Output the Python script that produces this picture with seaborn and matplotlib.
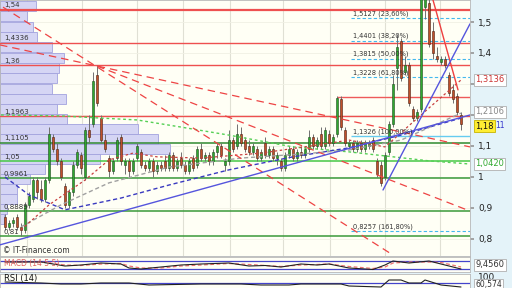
import matplotlib
matplotlib.use("Agg")
import matplotlib.pyplot as plt
import matplotlib.transforms as mtransforms
import numpy as np
import pandas as pd
import seaborn as sns

sns.set_theme(style="white")
plt.rcParams["font.family"] = ["DejaVu Sans"]

# ---------------- data ----------------
opens = [.87,.84,.85,.87,.84,.83,.91,.93,.99,.96,
         .93,.99,1.13,1.09,1.05,.97,.91,.95,1.04,1.07,
         1.00,1.15,1.17,1.33,1.19,1.12,1.06,1.02,1.06,1.13,
         1.04,1.05,1.02,1.06,1.08,1.04,1.03,1.05,1.02,1.04,
         1.05,1.03,1.07,1.03,1.06,1.04,1.02,1.06,1.04,1.09,
         1.06,1.07,1.05,1.08,1.10,1.04,1.05,1.12,1.10,1.14,
         1.12,1.10,1.08,1.09,1.06,1.11,1.07,1.09,1.06,1.05,
         1.03,1.07,1.09,1.06,1.08,1.07,1.09,1.13,1.10,1.14,
         1.10,1.14,1.11,1.14,1.25,1.15,1.10,1.11,1.09,1.11,
         1.09,1.10,1.12,1.05,1.04,1.00,1.08,1.17,1.35,1.44,
         1.34,1.36,1.22,1.19,1.22,1.55,1.56,1.47,1.39,1.37,
         1.38,1.33,1.28,1.26,1.20]
highs = [.88,.86,.87,.88,.85,.92,.95,1.00,1.00,.99,
         1.00,1.16,1.14,1.11,1.06,.98,.96,1.05,1.09,1.08,
         1.16,1.20,1.34,1.36,1.20,1.14,1.07,1.06,1.13,1.14,
         1.06,1.06,1.06,1.11,1.09,1.05,1.06,1.06,1.05,1.05,
         1.07,1.08,1.08,1.06,1.08,1.05,1.06,1.07,1.10,1.11,
         1.08,1.08,1.09,1.11,1.11,1.06,1.15,1.13,1.17,1.16,
         1.13,1.12,1.11,1.10,1.09,1.13,1.10,1.10,1.08,1.06,
         1.08,1.10,1.10,1.09,1.10,1.10,1.15,1.14,1.13,1.16,
         1.16,1.15,1.14,1.26,1.26,1.16,1.12,1.12,1.12,1.12,
         1.12,1.12,1.13,1.06,1.05,1.08,1.18,1.33,1.46,1.45,
         1.39,1.37,1.23,1.22,1.60,1.60,1.59,1.50,1.42,1.39,
         1.39,1.34,1.30,1.27,1.21]
lows = [.83,.83,.84,.83,.81,.82,.90,.92,.93,.92,
        .92,.98,1.08,1.04,.99,.90,.90,.94,1.03,1.01,
        .99,1.11,1.16,1.23,1.11,1.08,1.00,1.01,1.05,1.04,
        1.01,1.00,1.01,1.05,1.03,1.02,1.02,1.00,1.01,1.02,
        1.02,1.02,1.02,1.02,1.03,1.01,1.01,1.02,1.03,1.05,
        1.05,1.04,1.04,1.06,1.06,1.02,1.04,1.08,1.09,1.10,
        1.08,1.07,1.07,1.05,1.05,1.06,1.06,1.05,1.04,1.02,
        1.02,1.06,1.05,1.05,1.06,1.06,1.08,1.09,1.09,1.09,
        1.09,1.10,1.10,1.13,1.15,1.10,1.09,1.08,1.08,1.08,
        1.08,1.09,1.08,1.00,0.97,0.99,1.07,1.16,1.28,1.31,
        1.33,1.23,1.18,1.18,1.21,1.51,1.42,1.38,1.37,1.36,
        1.35,1.26,1.24,1.20,1.15]
closes = [.84,.85,.86,.84,.83,.91,.94,.99,.95,.93,
          .99,1.14,1.09,1.05,1.00,.91,.95,1.04,1.08,1.03,
          1.15,1.13,1.31,1.24,1.12,1.09,1.02,1.05,1.12,1.05,
          1.05,1.02,1.05,1.10,1.04,1.03,1.05,1.02,1.04,1.03,
          1.03,1.07,1.03,1.05,1.04,1.02,1.05,1.03,1.09,1.06,
          1.07,1.05,1.08,1.10,1.07,1.05,1.12,1.09,1.14,1.11,
          1.09,1.08,1.10,1.06,1.08,1.07,1.09,1.06,1.07,1.03,
          1.07,1.09,1.06,1.08,1.07,1.09,1.13,1.10,1.12,1.10,
          1.15,1.11,1.13,1.255,1.16,1.11,1.11,1.09,1.11,1.09,
          1.11,1.11,1.09,1.01,0.98,1.07,1.17,1.30,1.42,1.32,
          1.36,1.24,1.19,1.21,1.58,1.59,1.43,1.40,1.38,1.38,
          1.36,1.27,1.25,1.21,1.17]

# volume profile (price bin centres, relative widths)
vp_price = [1.5516,1.519,1.484,1.452,1.419,1.385,1.352,1.319,1.285,1.252,1.219,
            1.187,1.155,1.123,1.090,1.058,1.026,0.994,0.961,0.929,0.897,0.864]
vp_volume = [36,27,33,37,52,64,59,57,52,66,57,67,138,158,170,100,45,30,17,17,7,4]

# horizontal support / resistance levels
red_levels = [1.54, 1.4336, 1.36, 1.1963]
red_labels = ["1,54", "1,4336", "1,36", "1,1963"]
green_levels = [1.1105, 1.05, 0.9961, 0.8889, 0.81]
green_labels = ["1,1105", "1,05", "0,9961", "0,8889", "0,81"]
green_colors = ["#2f8a2f", "#46c846", "#3a9a3a", "#3a9a3a", "#3a9a3a"]
short_red_level = 1.258
short_red_start = 83

# fibonacci levels
fib_levels = [1.5127, 1.4401, 1.3815, 1.3228, 1.1326, 0.8257]
fib_labels = ["1,5127 (23,60%)", "1,4401 (38,20%)", "1,3815 (50,00%)",
              "1,3228 (61,80%)", "1,1326 (100,00%)", "0,8257 (161,80%)"]
fib_start = 86.5

# trend lines (index, price)
red_trend_x = [[-0.5, 97.0], [-1.25, 116.25], [23, 116.25]]
red_trend_y = [[1.548, 0.748], [1.426, 1.097], [1.358, 0.890]]
red_solid_x = [107, 113.25]
red_solid_y = [1.571, 1.281]
blue_trend_x = [[-1.25, 116.25], [94.5, 116.25]]
blue_trend_y = [[0.781, 1.200], [0.958, 1.494]]

# moving averages (index, value)
ma_blue_x = [0, 6, 15, 29, 41, 56, 72, 86, 99, 114]
ma_blue_y = [1.0, 0.942, 0.894, 0.932, 0.974, 1.023, 1.065, 1.094, 1.135, 1.19]
ma_gray_x = [4, 14, 26, 41, 59, 74, 86, 99, 114]
ma_gray_y = [0.839, 0.91, 0.981, 1.032, 1.061, 1.074, 1.087, 1.119, 1.206]
ma_red_x = [4, 11, 20, 26, 32, 38, 49, 64, 78, 86, 95, 104, 114]
ma_red_y = [0.829, 0.91, 0.99, 1.055, 1.077, 1.065, 1.061, 1.077, 1.103, 1.119, 1.097, 1.2, 1.313]
ma_green_x = [-1, 14, 24, 33, 44, 56, 72, 86, 97, 106, 116]
ma_green_y = [1.2, 1.197, 1.19, 1.184, 1.161, 1.135, 1.097, 1.081, 1.065, 1.052, 1.042]

# indicators
macd_x = [0,4,9,15,19,24,29,31,34,39,44,49,56,61,65,69,74,78,81,86,92,95,97,101,106,109,114]
macd_y = [0.03,0.03,0.03,-0.01,0.0,0.02,0.01,-0.03,-0.04,-0.02,0.0,0.01,0.02,-0.01,-0.005,
          -0.02,0.01,0.0,0.01,-0.03,-0.045,0.0,0.04,0.02,0.04,0.01,-0.04]
signal_y = [0.035,0.03,0.03,0.0,-0.005,0.01,0.015,-0.01,-0.03,-0.03,-0.01,0.0,0.015,0.005,
            -0.005,-0.015,0.0,0.005,0.01,-0.015,-0.035,-0.02,0.02,0.03,0.03,0.025,-0.02]
rsi_x = [0,9,14,19,24,31,36,49,59,64,71,74,84,86,94,96,99,101,104,105,109,114]
rsi_y = [74,68,62,62,68,68,56,62,62,56,56,62,62,50,44,86,86,68,68,86,56,44]

y_ticks = [0.8, 0.9, 1.0, 1.1, 1.2, 1.3, 1.4, 1.5]
y_ticklabels = ["0,8", "0,9", "1", "1,1", "", "", "1,4", "1,5"]
grid_x = [5.5, 19.25, 33, 44.5, 56.25, 69.5, 81.25, 95, 108.75]

# ---------------- figure ----------------
W, H = 512, 288
fig = plt.figure(figsize=(W / 100, H / 100), dpi=100)
fig.patch.set_facecolor("#e4f3f9")

def rect(x0, y0, x1, y1):
    return [x0 / W, 1 - y1 / H, (x1 - x0) / W, (y1 - y0) / H]

XMIN, XMAX = -1.25, 116.25
bg = "#fffff5"

ax = fig.add_axes(rect(0, 0, 470, 256))
ax.set_facecolor(bg)
ax.set_xlim(XMIN, XMAX)
ax.set_ylim(0.745, 1.571)
ax.set_xticks(grid_x)
ax.set_yticks(y_ticks)
ax.set_yticklabels(y_ticklabels)
ax.yaxis.tick_right()
ax.tick_params(axis="x", length=0, labelbottom=False)
ax.tick_params(axis="y", labelsize=6.5, length=3, color="#999999", pad=3, labelcolor="#222222")
ax.grid(axis="x", color="#e0e0d4", lw=0.8, zorder=0)
ax.grid(axis="y", color="#f0f0e4", lw=0.6, zorder=0)
for s in ax.spines.values():
    s.set_color("#b8b8b8")
    s.set_linewidth(0.6)

# volume profile
ax.barh(vp_price, [v / 4 for v in vp_volume], height=0.0315, left=XMIN,
        color="#d5d5f4", edgecolor="#a2a2de", linewidth=0.6, zorder=1)

# horizontal levels
for lv in red_levels:
    ax.axhline(lv, color="#ee5050", lw=1.6 if lv == 1.54 else 1.0, zorder=3)
ax.hlines(short_red_level, short_red_start, XMAX, color="#ee5a5a", lw=1.0, zorder=3)
for lv, c in zip(green_levels, green_colors):
    ax.axhline(lv, color=c, lw=1.1, zorder=3)
for lv, lab in zip(red_levels + green_levels, red_labels + green_labels):
    ax.text(XMIN + 1.0, lv + 0.004, lab, fontsize=5, color="#333333", va="bottom", ha="left", zorder=8)

# fibonacci
for lv, lab in zip(fib_levels, fib_labels):
    if lv == 1.1326:
        ax.hlines(lv, fib_start, XMAX, color="#66ccf0", lw=1.0, zorder=3)
    else:
        ax.hlines(lv, fib_start, XMAX, color="#44b8ee", lw=0.8, linestyles=(0, (3, 2)), zorder=3)
    ax.text(fib_start + 0.5, lv + 0.004, lab, fontsize=4.8, color="#333333", va="bottom", ha="left", zorder=8)

# candles
df = pd.DataFrame({"o": opens, "h": highs, "l": lows, "c": closes})
df["i"] = np.arange(len(df))
up = df["c"] >= df["o"]
ax.vlines(df["i"], df["l"], df["h"], color="#707070", lw=0.7, zorder=4)
ax.bar(df["i"][up], (df["c"] - df["o"])[up], bottom=df["o"][up], width=0.65,
       color="#2fa82f", edgecolor="#1e4a1e", linewidth=0.4, zorder=5)
ax.bar(df["i"][~up], (df["o"] - df["c"])[~up], bottom=df["c"][~up], width=0.65,
       color="#c0502a", edgecolor="#4a2010", linewidth=0.4, zorder=5)

# moving averages
sns.lineplot(x=ma_green_x, y=ma_green_y, ax=ax, color="#55d055", lw=1.0, linestyle=(0, (2, 2)), zorder=6)
sns.lineplot(x=ma_blue_x, y=ma_blue_y, ax=ax, color="#3a3ac0", lw=1.0, linestyle=(0, (3, 2)), zorder=6)
sns.lineplot(x=ma_gray_x, y=ma_gray_y, ax=ax, color="#a0a0a0", lw=1.0, linestyle=(0, (3, 2)), zorder=6)
sns.lineplot(x=ma_red_x, y=ma_red_y, ax=ax, color="#c84040", lw=0.9, linestyle=(0, (2, 2)), zorder=6)

# trend lines
for xs, ys in zip(red_trend_x, red_trend_y):
    ax.plot(xs, ys, color="#ee4444", lw=0.9, linestyle=(0, (6, 4)), zorder=6)
ax.plot(red_solid_x, red_solid_y, color="#ee4040", lw=1.0, zorder=6)
for xs, ys in zip(blue_trend_x, blue_trend_y):
    ax.plot(xs, ys, color="#5555dd", lw=1.0, zorder=6)

ax.set_xlim(XMIN, XMAX)
ax.set_ylim(0.745, 1.571)
ax.set_xlabel("")
ax.set_ylabel("")
ax.text(3 / 470, 0.02, "© IT-Finance.com", transform=ax.transAxes, fontsize=5.5,
        color="#333333", va="center", ha="left", zorder=9)

# right-side value boxes
trans = mtransforms.blended_transform_factory(fig.transFigure, ax.transData)
box = dict(boxstyle="square,pad=0.18", fc="white", ec="#b0b0b0", lw=0.6)
fig.text(475 / W, 1.3136, "1,3136", transform=trans, fontsize=6, color="#cc3333", va="center", ha="left", bbox=box)
fig.text(475 / W, 1.2106, "1,2106", transform=trans, fontsize=6, color="#888888", va="center", ha="left", bbox=box)
fig.text(475 / W, 1.163, "1,18", transform=trans, fontsize=6, color="#111111", va="center", ha="left",
         bbox=dict(boxstyle="square,pad=0.18", fc="#ffee33", ec="#c8b400", lw=0.6))
fig.text(495 / W, 1.166, "11", transform=trans, fontsize=5.5, color="#3333cc", va="center", ha="left")
fig.text(475 / W, 1.042, "1,0420", transform=trans, fontsize=6, color="#33aa33", va="center", ha="left", bbox=box)

# MACD panel
ax2 = fig.add_axes(rect(0, 257, 470, 272))
ax2.set_facecolor(bg)
ax2.set_xlim(XMIN, XMAX)
ax2.set_ylim(-0.07, 0.08)
ax2.axhline(0.04, color="#4444cc", lw=0.9)
ax2.axhline(-0.04, color="#4444cc", lw=0.9)
sns.lineplot(x=macd_x, y=signal_y, ax=ax2, color="#ee7070", lw=0.9, linestyle=(0, (3, 2)))
sns.lineplot(x=macd_x, y=macd_y, ax=ax2, color="#222222", lw=0.8)
ax2.set_xticks([]); ax2.set_yticks([])
ax2.set_xlabel(""); ax2.set_ylabel("")
for s in ax2.spines.values():
    s.set_color("#b8b8b8"); s.set_linewidth(0.6)
ax2.text(0.008, 0.55, "MACD (14·5·5)", transform=ax2.transAxes, fontsize=5.5, color="#e06060", va="center")
fig.text(475 / W, 1 - 265 / H, "9,4560", fontsize=6, color="#333333", va="center", ha="left", bbox=box)

# RSI panel
ax3 = fig.add_axes(rect(0, 274, 470, 294))
ax3.set_facecolor(bg)
ax3.set_xlim(XMIN, XMAX)
ax3.set_ylim(2, 122)
ax3.axhline(70, color="#4444cc", lw=0.9)
sns.lineplot(x=rsi_x, y=rsi_y, ax=ax3, color="#222222", lw=0.8)
ax3.set_xticks([]); ax3.set_yticks([])
ax3.set_xlabel(""); ax3.set_ylabel("")
for s in ax3.spines.values():
    s.set_color("#b8b8b8"); s.set_linewidth(0.6)
ax3.text(0.008, 0.75, "RSI (14)", transform=ax3.transAxes, fontsize=6, color="#111111", va="center")
fig.text(478 / W, 1 - 277 / H, "100", fontsize=6.5, color="#222222", va="center", ha="left")
fig.text(475 / W, 1 - 284.5 / H, "60,574", fontsize=5.5, color="#333333", va="center", ha="left", bbox=box)

fig.savefig("out.png", dpi=100, facecolor=fig.get_facecolor())
